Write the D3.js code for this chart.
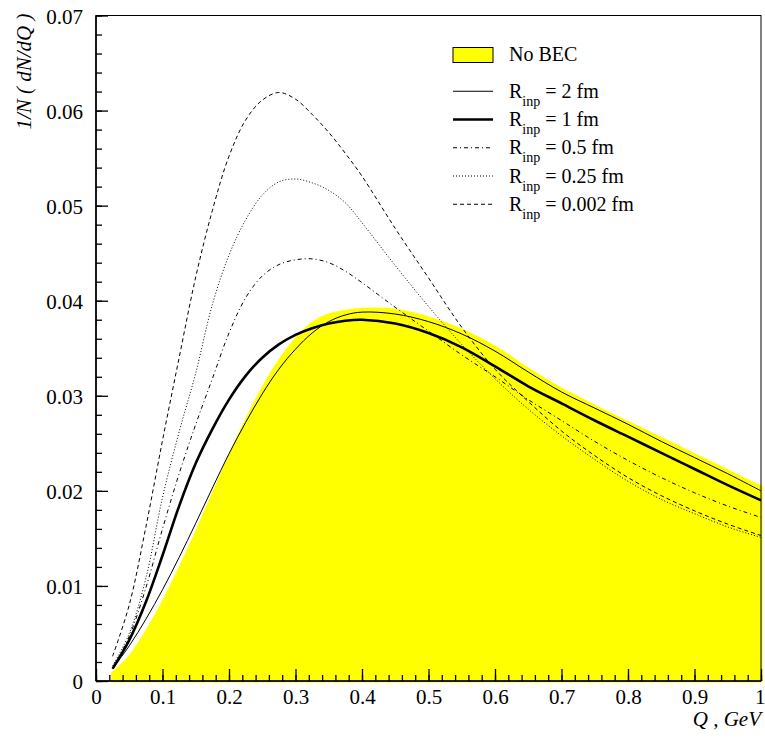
<!DOCTYPE html>
<html>
<head>
<meta charset="utf-8">
<script src="https://cdn.jsdelivr.net/npm/d3@7"></script>
<style>
  body { margin: 0; background: #fff; }
  svg { display: block; }
  text { font-family: "Liberation Serif", "Times New Roman", serif; fill: #000; }
</style>
</head>
<body>
<svg id="chart" width="765" height="739"></svg>
<script>
// Q grid (GeV) shared by every curve.
const Q = [0.025, 0.05, 0.075, 0.1, 0.125, 0.15, 0.175, 0.2, 0.225, 0.25, 0.275, 0.3,
           0.325, 0.35, 0.375, 0.4, 0.45, 0.5, 0.55, 0.6, 0.65, 0.7, 0.75, 0.8,
           0.85, 0.9, 0.95, 1.0];

// 1/N dN/dQ.
const noBEC = [0.0008, 0.0025, 0.0051, 0.0082, 0.0117, 0.0155, 0.0195, 0.0235, 0.0273, 0.0307,
               0.0336, 0.0359, 0.0376, 0.0385, 0.0389, 0.0391, 0.0390, 0.0382, 0.0369, 0.0351,
               0.0328, 0.0307, 0.0289, 0.0272, 0.0255, 0.0238, 0.0221, 0.0204];
const r2fm = [0.0013, 0.0037, 0.0065, 0.0096, 0.0130, 0.0166, 0.0203, 0.0239, 0.0272, 0.0302,
              0.0328, 0.0349, 0.0366, 0.0378, 0.0385, 0.0388, 0.0386, 0.0378, 0.0365, 0.0347,
              0.0325, 0.0304, 0.0287, 0.0270, 0.0252, 0.0235, 0.0218, 0.0200];
const r1fm = [0.0013, 0.0043, 0.0083, 0.0132, 0.0184, 0.0229, 0.0265, 0.0296, 0.0321, 0.0340,
              0.0354, 0.0364, 0.0371, 0.0376, 0.0379, 0.0380, 0.0376, 0.0366, 0.0351, 0.0331,
              0.0310, 0.0292, 0.0274, 0.0257, 0.0240, 0.0223, 0.0206, 0.0190];
const r05fm = [0.0013, 0.0047, 0.0098, 0.0160, 0.0218, 0.0270, 0.0318, 0.0366, 0.0403, 0.0426,
               0.0438, 0.0443, 0.0444, 0.0440, 0.0431, 0.0419, 0.0393, 0.0368, 0.0343, 0.0320,
               0.0296, 0.0274, 0.0252, 0.0232, 0.0214, 0.0198, 0.0184, 0.0172];
const r025fm = [0.0016, 0.0050, 0.0108, 0.0193, 0.0262, 0.0324, 0.0396, 0.0448, 0.0485, 0.0511,
                0.0525, 0.0528, 0.0524, 0.0516, 0.0503, 0.0482, 0.0437, 0.0394, 0.0354, 0.0318,
                0.0286, 0.0258, 0.0233, 0.0210, 0.0191, 0.0176, 0.0162, 0.0151];
const r0002fm = [0.0026, 0.0080, 0.0162, 0.0253, 0.0340, 0.0425, 0.0495, 0.0552, 0.0590, 0.0611,
                 0.0619, 0.0612, 0.0596, 0.0577, 0.0555, 0.0531, 0.0476, 0.0424, 0.0372, 0.0328,
                 0.0294, 0.0263, 0.0237, 0.0214, 0.0195, 0.0179, 0.0165, 0.0153];

const xTicks = [0, 0.1, 0.2, 0.3, 0.4, 0.5, 0.6, 0.7, 0.8, 0.9, 1];
const yTicks = [0, 0.01, 0.02, 0.03, 0.04, 0.05, 0.06, 0.07];
const rLabels = ['2 fm', '1 fm', '0.5 fm', '0.25 fm', '0.002 fm'];

// Line styles for the five R_inp curves (same order as rLabels).
const series = [
  { values: r2fm,    width: 1,   dash: null },
  { values: r1fm,    width: 2.6, dash: null },
  { values: r05fm,   width: 1,   dash: '4,3,1,3' },
  { values: r025fm,  width: 1,   dash: '1,2' },
  { values: r0002fm, width: 1,   dash: '4,3' },
];

const SERIF = '"Liberation Serif", "Times New Roman", serif';
const svg = d3.select('#chart').attr('font-family', SERIF);
const plotL = 96, plotR = 761, plotT = 15.5, plotB = 681;
const FONT = 21;

const x = d3.scaleLinear().domain([0, 1]).range([plotL, plotR]);
const y = d3.scaleLinear().domain([0, 0.07]).range([plotB, plotT]);

// ----- No BEC filled area -----
const area = d3.area()
  .x((d, i) => x(Q[i]))
  .y0(y(0))
  .y1(d => y(d))
  .curve(d3.curveCatmullRom.alpha(0.5));
svg.append('path')
  .datum(noBEC)
  .attr('d', area)
  .attr('fill', '#ffff00')
  .attr('stroke', '#ffff00')
  .attr('stroke-width', 3);

// ----- Curves -----
const line = d3.line()
  .x((d, i) => x(Q[i]))
  .y(d => y(d))
  .curve(d3.curveCatmullRom.alpha(0.5));
svg.append('g').selectAll('path')
  .data(series)
  .join('path')
  .attr('d', s => line(s.values))
  .attr('fill', 'none')
  .attr('stroke', '#000')
  .attr('stroke-width', s => s.width)
  .attr('stroke-dasharray', s => s.dash);

// ----- Frame -----
svg.append('rect')
  .attr('x', plotL).attr('y', plotT)
  .attr('width', plotR - plotL).attr('height', plotB - plotT)
  .attr('fill', 'none').attr('stroke', '#000').attr('stroke-width', 1);
svg.append('line').attr('x1', plotL).attr('x2', plotL).attr('y1', plotT).attr('y2', plotB)
  .attr('stroke', '#000').attr('stroke-width', 1.6);
svg.append('line').attr('x1', plotL).attr('x2', plotR).attr('y1', plotB).attr('y2', plotB)
  .attr('stroke', '#000').attr('stroke-width', 1.6);

// ----- Axes (ticks point inward) -----
function styleAxis(g) {
  g.attr('font-family', SERIF).attr('font-size', FONT);
  g.select('.domain').remove();
  g.selectAll('.tick line').attr('stroke', '#000').attr('stroke-width', 1.3);
  g.selectAll('text').attr('fill', '#000');
}

svg.append('g')
  .attr('transform', `translate(0,${plotB})`)
  .call(d3.axisBottom(x).tickValues(d3.range(0, 1.0001, 0.02)).tickSize(-6).tickFormat(''))
  .call(styleAxis);
svg.append('g')
  .attr('transform', `translate(0,${plotB})`)
  .call(d3.axisBottom(x).tickValues(xTicks).tickSize(-12).tickPadding(8).tickFormat(d3.format('')))
  .call(styleAxis)
  // the last label sits at the window edge: anchor it by its right side
  .call(g => g.selectAll('.tick').filter(d => d === 1).select('text')
    .attr('text-anchor', 'end').attr('x', 4));

svg.append('g')
  .attr('transform', `translate(${plotL},0)`)
  .call(d3.axisLeft(y).tickValues(d3.range(0, 0.07001, 0.002)).tickSize(-6).tickFormat(''))
  .call(styleAxis);
svg.append('g')
  .attr('transform', `translate(${plotL},0)`)
  .call(d3.axisLeft(y).tickValues(yTicks).tickSize(-12).tickPadding(13).tickFormat(d3.format('')))
  .call(styleAxis)
  .call(g => g.selectAll('text').attr('dy', '0.36em'));

// ----- Axis titles -----
svg.append('text')
  .attr('transform', `translate(31,${plotT - 2}) rotate(-90)`)
  .attr('text-anchor', 'end')
  .attr('font-size', 21)
  .attr('font-style', 'italic')
  .text('1/N ( dN/dQ )');

svg.append('text')
  .attr('x', plotR)
  .attr('y', 726)
  .attr('text-anchor', 'end')
  .attr('font-size', 21)
  .attr('font-style', 'italic')
  .text('Q , GeV');

// ----- Legend -----
const legX = 453, legW = 40, legText = 509;
const rowY = i => (i === 0 ? 55 : 63 + i * 28.25);
const legend = svg.append('g');

legend.append('rect')
  .attr('x', legX).attr('y', rowY(0) - 7.5)
  .attr('width', legW).attr('height', 15)
  .attr('fill', '#ffff00').attr('stroke', '#000').attr('stroke-width', 1);
legend.append('text')
  .attr('x', legText).attr('y', rowY(0) + 6)
  .attr('font-size', 20)
  .text('No BEC');

series.forEach((s, i) => {
  const cy = rowY(i + 1);
  legend.append('line')
    .attr('x1', legX).attr('x2', legX + legW)
    .attr('y1', cy).attr('y2', cy)
    .attr('stroke', '#000')
    .attr('stroke-width', s.width)
    .attr('stroke-dasharray', s.dash);
  const t = legend.append('text')
    .attr('x', legText).attr('y', cy + 6.5)
    .attr('font-size', 20);
  t.append('tspan').text('R');
  t.append('tspan').attr('font-size', 14).attr('dy', 8).text('inp');
  t.append('tspan').attr('dy', -8).text(' = ' + rLabels[i]);
});
</script>
</body>
</html>
